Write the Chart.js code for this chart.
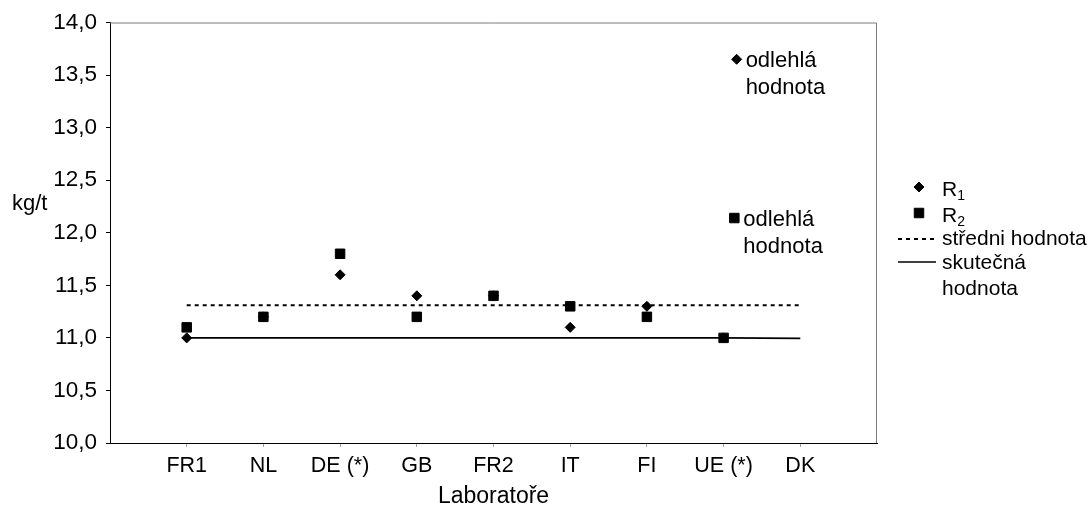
<!DOCTYPE html>
<html>
<head>
<meta charset="utf-8">
<script src="https://cdn.jsdelivr.net/npm/chart.js@4/dist/chart.umd.min.js"></script>
<style>
  html, body { margin: 0; padding: 0; background: #fff; }
  #wrap { width: 1091px; height: 513px; }
</style>
</head>
<body>
<div id="wrap"><canvas id="c" width="1091" height="513"></canvas></div>
<script>
// Laboratoře a naměřené hodnoty (kg/t)
const laboratore = ['FR1', 'NL', 'DE (*)', 'GB', 'FR2', 'IT', 'FI', 'UE (*)', 'DK'];
const r1 = [11.0, 11.2, 11.6, 11.4, 11.4, 11.1, 11.3, 11.0, null];
const r2 = [11.1, 11.2, 11.8, 11.2, 11.4, 11.3, 11.2, 11.0, null];
const stredniHodnota = [11.31, 11.31, 11.31, 11.31, 11.31, 11.31, 11.31, 11.31, 11.31];
const skutecnaHodnota = [11.0, 11.0, 11.0, 11.0, 11.0, 11.0, 11.0, 11.0, 10.995];
const yTicks = [10.0, 10.5, 11.0, 11.5, 12.0, 12.5, 13.0, 13.5, 14.0];
// značky odlehlých hodnot s popisem
const odlehlaR1 = [{ x: 8.17, y: 13.65 }];
const odlehlaR2 = [{ x: 8.14, y: 12.14 }];

const FONT = '"Liberation Sans", Arial, sans-serif';
const toPoints = arr => arr.map((v, i) => ({ x: i + 1, y: v }));

const diamond = { pointStyle: 'rectRot', pointRadius: 5, pointBorderWidth: 1 };
const square = { pointStyle: 'rect', pointRadius: 6.7, pointBorderWidth: 1 };

const decorPlugin = {
  id: 'decor',
  afterDraw(chart) {
    const ctx = chart.ctx;
    const a = chart.chartArea;
    const xs = chart.scales.x, ys = chart.scales.y;
    ctx.save();

    // šedý horní a pravý okraj grafu
    ctx.strokeStyle = '#7a7a7a';
    ctx.lineWidth = 1;
    ctx.beginPath();
    ctx.moveTo(a.left, a.top + 0.5);
    ctx.lineTo(a.right - 0.5, a.top + 0.5);
    ctx.lineTo(a.right - 0.5, a.bottom);
    ctx.stroke();

    ctx.fillStyle = '#000';
    ctx.strokeStyle = '#000';
    ctx.textBaseline = 'middle';

    // názvy os
    ctx.font = '23px ' + FONT;
    ctx.textAlign = 'center';
    ctx.fillText('Laboratoře', (a.left + a.right) / 2, 497);
    ctx.font = '22px ' + FONT;
    ctx.textAlign = 'left';
    ctx.fillText('kg/t', 12, 204);

    // popisy odlehlých hodnot
    [odlehlaR1[0], odlehlaR2[0]].forEach(p => {
      const px = xs.getPixelForValue(p.x);
      const py = ys.getPixelForValue(p.y);
      ctx.fillText('odlehlá', px + 9, py + 2);
      ctx.fillText('hodnota', px + 9, py + 29);
    });

    // legenda
    const lx = 919, tx = 942;
    ctx.fillStyle = '#000';
    Chart.helpers.drawPoint(ctx, { pointStyle: 'rectRot', radius: 5, borderWidth: 1 }, lx, 187);
    Chart.helpers.drawPoint(ctx, { pointStyle: 'rect', radius: 6.7, borderWidth: 1 }, lx, 213);
    ctx.fillStyle = '#000';
    ctx.font = '21px ' + FONT;
    ctx.fillText('R', tx, 190);
    ctx.fillText('R', tx, 216);
    const rw = ctx.measureText('R').width;
    ctx.font = '14px ' + FONT;
    ctx.fillText('1', tx + rw, 196);
    ctx.fillText('2', tx + rw, 222);

    ctx.font = '21px ' + FONT;
    ctx.lineWidth = 2;
    ctx.setLineDash([4, 4]);
    ctx.beginPath();
    ctx.moveTo(898, 239);
    ctx.lineTo(936, 239);
    ctx.stroke();
    ctx.setLineDash([]);
    ctx.lineWidth = 1.5;
    ctx.beginPath();
    ctx.moveTo(898, 262);
    ctx.lineTo(936, 262);
    ctx.stroke();
    ctx.fillText('středni hodnota', tx, 239);
    ctx.fillText('skutečná', tx, 263);
    ctx.fillText('hodnota', tx, 289);

    ctx.restore();
  }
};

new Chart(document.getElementById('c'), {
  type: 'scatter',
  data: {
    datasets: [
      Object.assign({ label: 'R1', data: toPoints(r1), backgroundColor: '#000', borderColor: '#000' }, diamond),
      Object.assign({ label: 'R2', data: toPoints(r2), backgroundColor: '#000', borderColor: '#000' }, square),
      Object.assign({ label: 'odlehlá hodnota R1', data: odlehlaR1, backgroundColor: '#000', borderColor: '#000' }, diamond),
      Object.assign({ label: 'odlehlá hodnota R2', data: odlehlaR2, backgroundColor: '#000', borderColor: '#000' }, square),
      {
        label: 'středni hodnota', data: toPoints(stredniHodnota), showLine: true,
        borderColor: '#000', borderWidth: 2, borderDash: [4, 4], pointRadius: 0, fill: false
      },
      {
        label: 'skutečná hodnota', data: toPoints(skutecnaHodnota), showLine: true,
        borderColor: '#000', borderWidth: 1.6, pointRadius: 0, fill: false
      }
    ]
  },
  options: {
    responsive: false,
    animation: false,
    devicePixelRatio: 1,
    layout: { padding: { left: 0, right: 214, top: 19, bottom: 0 } },
    plugins: { legend: { display: false }, tooltip: { enabled: false } },
    scales: {
      x: {
        type: 'linear', min: 0, max: 10,
        afterBuildTicks: axis => { axis.ticks = laboratore.map((_, i) => ({ value: i + 1 })); },
        afterFit: axis => { axis.height = 70; },
        grid: { drawOnChartArea: false, drawTicks: true, tickLength: 4, color: '#a0a0a0' },
        border: { display: true, color: '#000', width: 1 },
        ticks: {
          autoSkip: false, maxRotation: 0, padding: 6, color: '#000',
          font: { family: FONT, size: 21.5 },
          callback: v => laboratore[v - 1] || ''
        }
      },
      y: {
        type: 'linear', min: 10, max: 14,
        afterBuildTicks: axis => { axis.ticks = yTicks.map(v => ({ value: v })); },
        afterFit: axis => { axis.width = 110; },
        grid: { drawOnChartArea: false, drawTicks: true, tickLength: 4, color: '#000' },
        border: { display: true, color: '#000', width: 1 },
        ticks: {
          padding: 9, color: '#000',
          font: { family: FONT, size: 22.5 },
          callback: v => v.toFixed(1).replace('.', ',')
        }
      }
    }
  },
  plugins: [decorPlugin]
});
</script>
</body>
</html>
